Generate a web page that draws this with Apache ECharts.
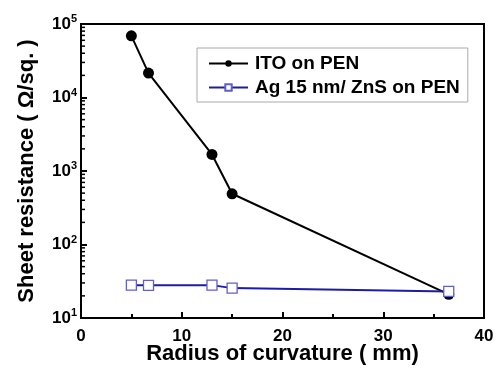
<!DOCTYPE html>
<html><head><meta charset="utf-8">
<script src="https://cdn.jsdelivr.net/npm/echarts@6/dist/echarts.min.js"></script>
<style>html,body{margin:0;padding:0;background:#fff}#c{width:495px;height:369px}</style>
</head><body><div id="c"></div>
<script>
var radiusITO = [5, 6.7, 13, 15, 36.5];
var resITO = [69000, 21500, 1680, 490, 21];
var radiusAg = [5, 6.7, 13, 15, 36.5];
var resAg = [28, 27.8, 28, 25.5, 23];
var xTicks = [0, 10, 20, 30, 40];
var yMinorMult = [2, 3, 4, 5, 6, 7, 8, 9];
var yDecades = [10, 100, 1000, 10000];

var minorVals = [];
yDecades.forEach(function(d){ yMinorMult.forEach(function(m){ minorVals.push([0, d*m]); }); });

var FONT = '"Liberation Sans", Arial, sans-serif';
var chart = echarts.init(document.getElementById('c'));
chart.setOption({
  animation: false,
  grid: {left: 81, right: 11, top: 24, bottom: 51, outerBoundsMode: 'none', containLabel: false, show: true, borderColor: '#000', borderWidth: 2, backgroundColor: 'transparent'},
  legend: {
    left: 197, top: 48, width: 278, orient: 'vertical', itemGap: 5,
    padding: [6, 8, 5, 11],
    borderColor: '#aaa', borderWidth: 1, itemWidth: 39, itemHeight: 8,
    data: ['ITO on PEN', 'Ag 15 nm/ ZnS on PEN'],
    textStyle: {fontFamily: FONT, fontWeight: 'bold', fontSize: 19, color: '#000', padding: [0, 0, 0, 2]}
  },
  xAxis: {
    type: 'value', min: 0, max: 40, interval: 10,
    name: 'Radius of curvature ( mm)', nameLocation: 'middle', nameGap: 25, nameMoveOverlap: false,
    nameTextStyle: {fontFamily: FONT, fontWeight: 'bold', fontSize: 22, color: '#000', verticalAlign: 'top'},
    axisLine: {show: true, lineStyle: {color: '#000', width: 2}},
    axisTick: {show: true, inside: true, length: 6, lineStyle: {color: '#000', width: 2}},
    minorTick: {show: true, splitNumber: 2, length: 4, lineStyle: {color: '#000', width: 2}},
    splitLine: {show: false},
    axisLabel: {fontFamily: FONT, fontWeight: 'bold', fontSize: 17, color: '#000', margin: 10}
  },
  yAxis: {
    type: 'log', logBase: 10, min: 10, max: 100000,
    name: 'Sheet resistance ( \u03A9/sq. )', nameLocation: 'middle', nameGap: 43, nameMoveOverlap: false,
    nameTextStyle: {fontFamily: FONT, fontWeight: 'bold', fontSize: 22, color: '#000'},
    axisLine: {show: true, lineStyle: {color: '#000', width: 2}},
    axisTick: {show: true, inside: true, length: 6, lineStyle: {color: '#000', width: 2}},
    splitLine: {show: false},
    axisLabel: {
      fontFamily: FONT, margin: 4, color: '#000',
      formatter: function(v){ var e = Math.round(Math.log10(v)); return '{b|10}{s|' + e + '}'; },
      rich: {
        b: {fontFamily: FONT, fontWeight: 'bold', fontSize: 17, color: '#000'},
        s: {fontFamily: FONT, fontWeight: 'bold', fontSize: 11, color: '#000', padding: [0, 0, 10, 0]}
      }
    }
  },
  series: [
    {
      name: 'ITO on PEN', type: 'line',
      data: radiusITO.map(function(x, i){ return [x, resITO[i]]; }),
      symbol: 'circle', symbolSize: 11,
      itemStyle: {color: '#000'}, lineStyle: {color: '#000', width: 2}, z: 3
    },
    {
      name: 'Ag 15 nm/ ZnS on PEN', type: 'line',
      data: radiusAg.map(function(x, i){ return [x, resAg[i]]; }),
      symbol: 'rect', symbolSize: 10,
      itemStyle: {color: '#fff', borderColor: '#6060c8', borderWidth: 1.3},
      lineStyle: {color: '#1c1ca8', width: 2}, z: 4
    },
    {
      name: 'minor', type: 'custom', silent: true, z: 5,
      data: minorVals,
      renderItem: function(params, api){
        var p = api.coord([api.value(0), api.value(1)]);
        return {type: 'line', shape: {x1: p[0], y1: p[1], x2: p[0] + 4, y2: p[1]}, style: {stroke: '#000', lineWidth: 1.5}};
      }
    }
  ]
});
</script></body></html>
